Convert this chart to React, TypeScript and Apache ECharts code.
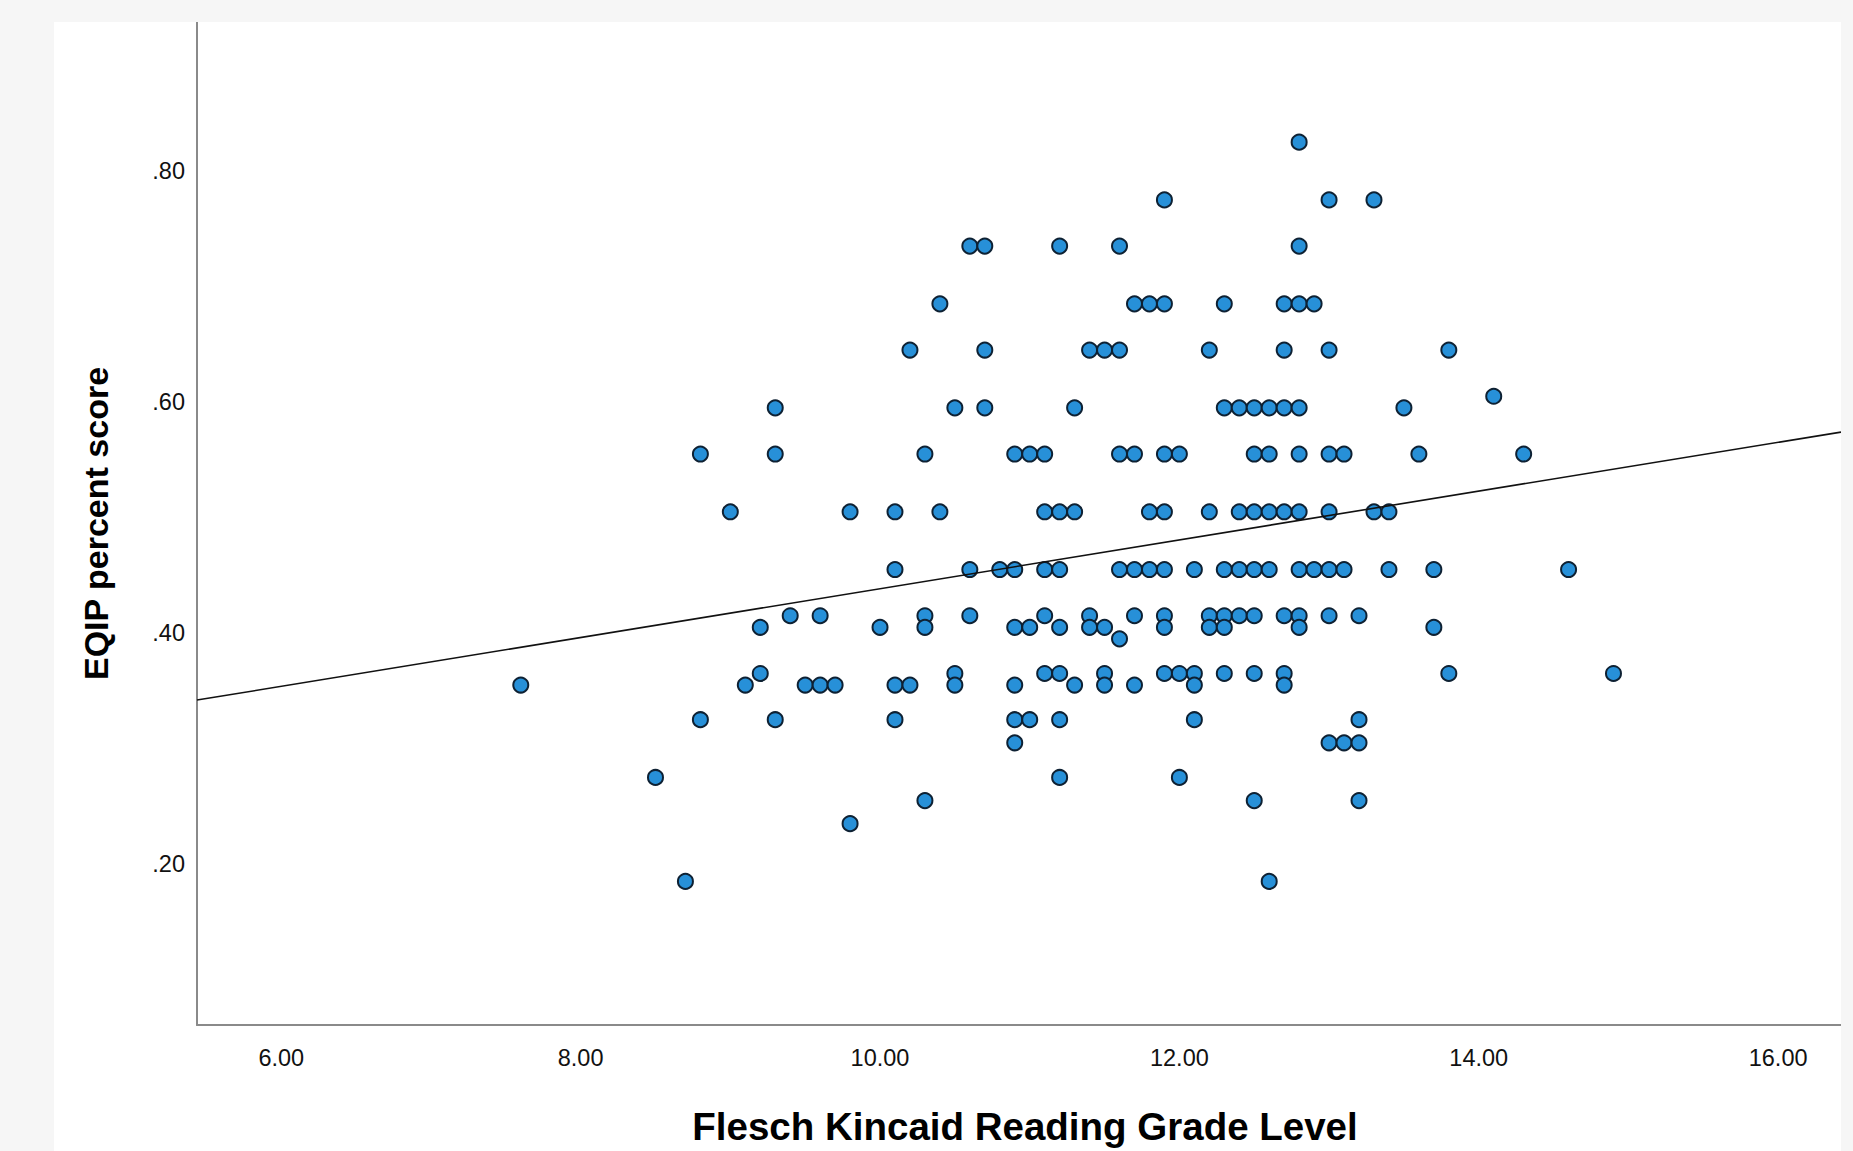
import React, { useEffect, useRef } from "react";
import * as echarts from "echarts";

// EQIP percent score levels (y) and the Flesch Kincaid grade levels (x) found at each
const eqipLevels = [0.825, 0.775, 0.735, 0.685, 0.645, 0.605, 0.595, 0.555, 0.505, 0.455, 0.415, 0.405, 0.395, 0.365, 0.355, 0.325, 0.305, 0.275, 0.255, 0.235, 0.185];

const gradeAt825 = [12.8];
const gradeAt775 = [11.9, 13.0, 13.3];
const gradeAt735 = [10.6, 10.7, 11.2, 11.6, 12.8];
const gradeAt685 = [10.4, 11.7, 11.8, 11.9, 12.3, 12.7, 12.8, 12.9];
const gradeAt645 = [10.2, 10.7, 11.4, 11.5, 11.6, 12.2, 12.7, 13.0, 13.8];
const gradeAt605 = [14.1];
const gradeAt595 = [9.3, 10.5, 10.7, 11.3, 12.3, 12.4, 12.5, 12.6, 12.7, 12.8, 13.5];
const gradeAt555 = [8.8, 9.3, 10.3, 10.9, 11.0, 11.1, 11.6, 11.7, 11.9, 12.0, 12.5, 12.6, 12.8, 13.0, 13.1, 13.6, 14.3];
const gradeAt505 = [9.0, 9.8, 10.1, 10.4, 11.1, 11.2, 11.3, 11.8, 11.9, 12.2, 12.4, 12.5, 12.6, 12.7, 12.8, 13.0, 13.3, 13.4];
const gradeAt455 = [10.1, 10.6, 10.8, 10.9, 11.1, 11.2, 11.6, 11.7, 11.8, 11.9, 12.1, 12.3, 12.4, 12.5, 12.6, 12.8, 12.9, 13.0, 13.1, 13.4, 13.7, 14.6];
const gradeAt415 = [9.4, 9.6, 10.3, 10.6, 11.1, 11.4, 11.7, 11.9, 12.2, 12.3, 12.4, 12.5, 12.7, 12.8, 13.0, 13.2];
const gradeAt405 = [9.2, 10.0, 10.3, 10.9, 11.0, 11.2, 11.4, 11.5, 11.9, 12.2, 12.3, 12.8, 13.7];
const gradeAt395 = [11.6];
const gradeAt365 = [9.2, 10.5, 11.1, 11.2, 11.5, 11.9, 12.0, 12.1, 12.3, 12.5, 12.7, 13.8, 14.9];
const gradeAt355 = [7.6, 9.1, 9.5, 9.6, 9.7, 10.1, 10.2, 10.5, 10.9, 11.3, 11.5, 11.7, 12.1, 12.7];
const gradeAt325 = [8.8, 9.3, 10.1, 10.9, 11.0, 11.2, 12.1, 13.2];
const gradeAt305 = [10.9, 13.0, 13.1, 13.2];
const gradeAt275 = [8.5, 11.2, 12.0];
const gradeAt255 = [10.3, 12.5, 13.2];
const gradeAt235 = [9.8];
const gradeAt185 = [8.7, 12.6];

const gradesByLevel = [
  gradeAt825, gradeAt775, gradeAt735, gradeAt685, gradeAt645, gradeAt605, gradeAt595,
  gradeAt555, gradeAt505, gradeAt455, gradeAt415, gradeAt405, gradeAt395, gradeAt365,
  gradeAt355, gradeAt325, gradeAt305, gradeAt275, gradeAt255, gradeAt235, gradeAt185,
];

// fit line end points
const fitX = [5.437, 16.42];
const fitY = [0.342, 0.574];

const xTicks = [6, 8, 10, 12, 14, 16];
const yTicks = [0.2, 0.4, 0.6, 0.8];

const X_MIN = 5.437;
const X_MAX = 16.42;
const Y_MIN = 0.0607;
const Y_MAX = 0.929;

export default function App() {
  const ref = useRef<HTMLDivElement>(null);

  useEffect(() => {
    if (!ref.current) return;
    const chart = echarts.init(ref.current, undefined, { renderer: "svg" });

    const points: number[][] = [];
    gradesByLevel.forEach((grades, i) => {
      grades.forEach((g) => points.push([g, eqipLevels[i]]));
    });

    const font = "'Liberation Sans', Arial, sans-serif";
    const axisLineStyle = { color: "#8a8a8a", width: 2 };

    chart.setOption({
      animation: false,
      backgroundColor: "#ffffff",
      grid: { left: 143, top: 0, width: 1644, height: 1007, containLabel: false },
      xAxis: {
        type: "value",
        min: X_MIN,
        max: X_MAX,
        name: "Flesch Kincaid Reading Grade Level",
        nameLocation: "middle",
        nameGap: 82,
        nameTextStyle: { fontFamily: font, fontSize: 38.5, fontWeight: "bold", color: "#000", padding: [0, 0, 0, 12] },
        axisLine: { show: true, onZero: false, lineStyle: axisLineStyle },
        axisTick: { show: false },
        splitLine: { show: false },
        axisLabel: {
          customValues: xTicks,
          formatter: (v: number) => v.toFixed(2),
          fontFamily: font,
          fontSize: 23.5,
          color: "#111",
          margin: 21,
        },
      },
      yAxis: {
        type: "value",
        min: Y_MIN,
        max: Y_MAX,
        name: "EQIP percent score",
        nameLocation: "middle",
        nameRotate: 90,
        nameGap: 84,
        nameTextStyle: { fontFamily: font, fontSize: 34, fontWeight: "bold", color: "#000" },
        axisLine: { show: true, onZero: false, lineStyle: axisLineStyle },
        axisTick: { show: false },
        splitLine: { show: false },
        axisLabel: {
          customValues: yTicks,
          formatter: (v: number) => v.toFixed(2).replace(/^0/, ""),
          fontFamily: font,
          fontSize: 23.5,
          color: "#111",
          margin: 12,
        },
      },
      series: [
        {
          type: "line",
          data: [
            [fitX[0], fitY[0]],
            [fitX[1], fitY[1]],
          ],
          symbol: "none",
          lineStyle: { color: "#111", width: 1.6 },
          z: 3,
          silent: true,
        },
        {
          type: "scatter",
          data: points,
          symbol: "circle",
          symbolSize: 15,
          itemStyle: { color: "#2790d8", borderColor: "#0e2133", borderWidth: 2, opacity: 1 },
          z: 2,
        },
      ],
    });

    return () => chart.dispose();
  }, []);

  return (
    <div style={{ position: "fixed", left: 0, top: 0, width: 1853, height: 1151, background: "#f6f6f6" }}>
      <div
        ref={ref}
        style={{ position: "absolute", left: 54, top: 22, width: 1787, height: 1129 }}
      />
    </div>
  );
}
